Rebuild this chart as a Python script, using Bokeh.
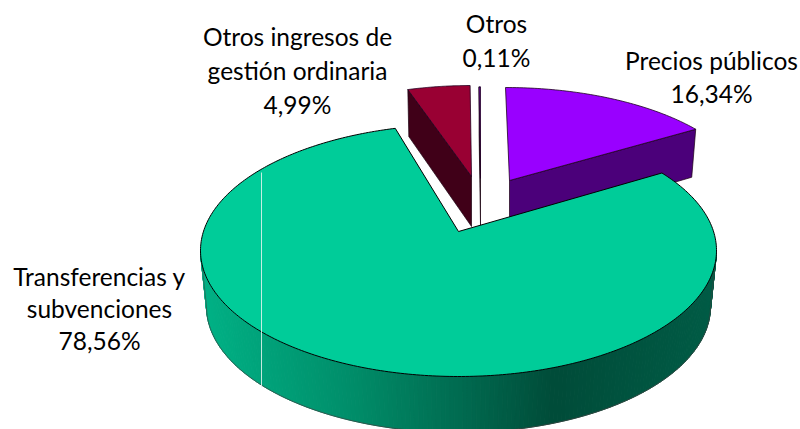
import numpy as np
from bokeh.plotting import figure
from bokeh.models import Range1d
from bokeh.core.properties import value
from bokeh.embed import file_html
from bokeh.resources import INLINE

categories = ["Precios públicos", "Transferencias y subvenciones", "Otros ingresos de gestión ordinaria", "Otros"]
shares = [16.34, 78.56, 4.99, 0.11]
share_labels = ["16,34%", "78,56%", "4,99%", "0,11%"]
label_lines = [["Precios públicos"], ["Transferencias y", "subvenciones"],
               ["Otros ingresos de", "gestión ordinaria"], ["Otros"]]
label_centers = [(711, 60), (99, 276), (297, 36), (496, 23)]
label_gaps = [33, 32, 34, 34]
top_colors = ["#9900FF", "#00CC99", "#990033", "#8000D0"]
cut_colors = ["#4B007A", "#00664C", "#400018", "#000000"]

# per-slice projected disc: apex x/y, radii, apex wall depth, rim wall depth, rim wall shift, lean
apex_x = [509, 458, 471, 480]
apex_y = [180, 231, 176, 178]
ellipse_y = [195.5, 250, 191, 193.3]
rx = [239, 258, 232, 235]
ry = [108.5, 126, 106, 107]
depth_apex = [50, 50, 50, 47]
depth_rim = [48, 47, 47, 47]
rim_shift = [-4, 0, 1, 0]
lean = [0.043, 0.0, 0.0, 0.0]
PERSP = 0.143
# the picture's perspective closes the big slice's back corner a little further round the rim
BACK_CORNER_TURN = 2.0

p = figure(width=800, height=429, output_backend="svg", toolbar_location=None,
           x_range=Range1d(0, 800), y_range=Range1d(429, 0),
           min_border=0, outline_line_color=None, background_fill_color="white")
p.axis.visible = False
p.grid.visible = False


def rim(i, t_deg):
    t = np.radians(np.asarray(t_deg, dtype=float))
    s, c = np.sin(t), np.cos(t)
    d = 1 + PERSP * s
    X = np.sqrt(1 - PERSP ** 2) * c / d
    Y = (s + PERSP) / d
    y = ellipse_y[i] - ry[i] * Y
    x = apex_x[i] + rx[i] * X + lean[i] * (y - apex_y[i])
    return x, y


# clockwise from 12 o'clock
ends = 90 - np.cumsum(shares) * 3.6
starts = np.r_[90, ends[:-1]]

# front wall of the big slice (its elliptical rim), shaded left to right
E_X, E_Y = apex_x[1], ellipse_y[1]
B_Y, B_RX, B_RY = 306, 252, 126
stops_x = [200, 350, 470, 555, 720]
stops_rgb = np.array([[0, 178, 134], [0, 142, 106], [0, 104, 78], [0, 76, 57], [0, 92, 70]])
phi = np.radians(np.linspace(180, 360, 181))
tx = E_X + rx[1] * np.cos(phi)
ty = E_Y - ry[1] * np.sin(phi)
bx = E_X + B_RX * np.cos(phi)
by = B_Y - B_RY * np.sin(phi)
xs_w, ys_w, cols = [], [], []
for k in range(len(phi) - 1):
    xm = (tx[k] + tx[k + 1]) / 2
    rgb = [int(np.interp(xm, stops_x, stops_rgb[:, j])) for j in range(3)]
    xs_w.append([tx[k], tx[k + 1], bx[k + 1], bx[k]])
    ys_w.append([ty[k], ty[k + 1], by[k + 1], by[k]])
    cols.append("#%02x%02x%02x" % tuple(rgb))

# back slices first, the big slice last
for i in [0, 2, 3]:
    arc = np.linspace(starts[i], ends[i], 60)
    ax, ay = rim(i, arc)
    # the cut face that shows is the one on the slice's outer side
    j = -1 if i == 0 else 0
    rx0, ry0 = ax[j], ay[j]
    p.patch([apex_x[i], rx0, rx0 + rim_shift[i], apex_x[i]],
            [apex_y[i], ry0, ry0 + depth_rim[i], apex_y[i] + depth_apex[i]],
            fill_color=cut_colors[i], line_color="#1a0010", line_width=0.7)
    p.patch(np.r_[apex_x[i], ax], np.r_[apex_y[i], ay],
            fill_color=top_colors[i], line_color="#200020", line_width=0.8)

p.patches(xs_w, ys_w, fill_color=cols, line_color=cols, line_width=1)
p.line(bx, by, line_color="#404040", line_width=1, line_alpha=0.7)
p.line([tx[0], bx[0]], [ty[0], by[0]], line_color="#404040", line_width=0.8, line_alpha=0.7)
p.line([tx[-1], bx[-1]], [ty[-1], by[-1]], line_color="#404040", line_width=0.8, line_alpha=0.7)

arc = np.linspace(starts[1], ends[1] - BACK_CORNER_TURN, 360)
ax, ay = rim(1, arc)
p.patch(np.r_[apex_x[1], ax], np.r_[apex_y[1], ay],
        fill_color=top_colors[1], line_color="black", line_width=1)

# thin pale seam that crosses the big slice
p.segment(261, 172, 261, 387, line_color="#e8f5f0", line_width=1, line_alpha=0.85)

for lines, pct, (cx, cy), gap in zip(label_lines, share_labels, label_centers, label_gaps):
    for n, txt in enumerate(lines + [pct]):
        p.text([cx], [cy + n * gap], text=[txt], text_align="center", text_baseline="middle",
               text_font=value("Lato"), text_font_size="24.5px", text_color="black")

open("out.html", "w").write(file_html(p, INLINE))
